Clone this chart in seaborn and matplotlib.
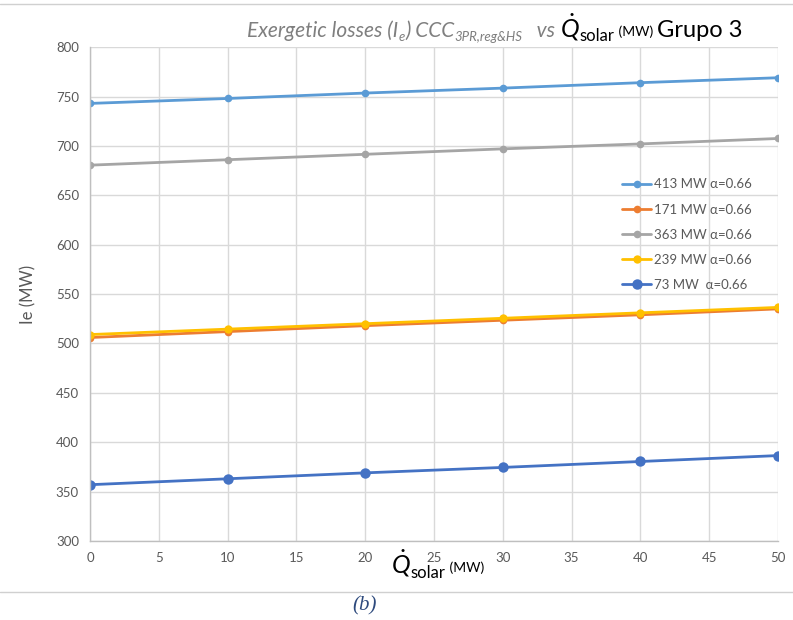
import matplotlib
matplotlib.use("Agg")
import matplotlib.pyplot as plt
import seaborn as sns
import pandas as pd

# Solar heat input (MW) and exergetic losses (MW) for each plant size
q_solar = [0, 10, 20, 30, 40, 50]
ie_413 = [743, 748, 753.5, 758.5, 764, 769]
ie_171 = [506, 512, 518, 523.5, 529, 535]
ie_363 = [680.5, 686, 691.5, 697, 702, 707.5]
ie_239 = [509, 514.5, 520, 525.5, 531, 536.5]
ie_73 = [357, 363, 369, 374.5, 380.5, 386.5]

series_labels = ["413 MW α=0.66", "171 MW α=0.66", "363 MW α=0.66",
                 "239 MW α=0.66", "73 MW  α=0.66"]
series_values = [ie_413, ie_171, ie_363, ie_239, ie_73]
series_colors = ["#5B9BD5", "#ED7D31", "#A5A5A5", "#FFC000", "#4472C4"]
marker_sizes = [5.5, 5.5, 5.5, 6, 7.5]

x_ticks = list(range(0, 51, 5))
y_ticks = list(range(300, 801, 50))

sns.set_style("whitegrid")
plt.rcParams["font.family"] = ["Lato", "DejaVu Sans"]
plt.rcParams["mathtext.fontset"] = "custom"
plt.rcParams["mathtext.rm"] = "Lato"
plt.rcParams["mathtext.it"] = "Lato:italic"
plt.rcParams["mathtext.bf"] = "Lato:bold"

fig = plt.figure(figsize=(7.93, 6.2), dpi=100)
ax = fig.add_axes([0.1135, 0.1274, 0.8675, 0.7966])

for label, vals, color, ms in zip(series_labels, series_values, series_colors, marker_sizes):
    df = pd.DataFrame({"Q": q_solar, "Ie": vals})
    sns.lineplot(data=df, x="Q", y="Ie", ax=ax, color=color, marker="o",
                 markersize=ms, markeredgewidth=0, linewidth=2, label=label)

ax.set_xlim(0, 50)
ax.set_ylim(300, 800)
ax.set_xticks(x_ticks)
ax.set_yticks(y_ticks)
ax.tick_params(axis="both", length=0, labelsize=9.5, labelcolor="#595959", pad=8)
ax.grid(True, color="#D9D9D9", linewidth=1)
for side in ["top", "right"]:
    ax.spines[side].set_visible(False)
for side in ["left", "bottom"]:
    ax.spines[side].set_color("#BFBFBF")
    ax.spines[side].set_linewidth(1)

ax.set_xlabel("")
ax.set_ylabel("Ie (MW)", fontsize=12, color="#595959", labelpad=14)

leg = ax.legend(loc="upper left", bbox_to_anchor=(0.766, 0.745), frameon=False,
                fontsize=9.5, labelspacing=1.0, handlelength=2.2, handletextpad=0.2,
                borderaxespad=0)
for t in leg.get_texts():
    t.set_color("#595959")

renderer = fig.canvas.get_renderer()
W, H = fig.bbox.width, fig.bbox.height


def run_text(x, y, pieces):
    """Write text pieces one after another along a shared baseline (figure coords).
    Each piece: (text, size, color, style, baseline shift in px)."""
    for s, size, color, style, shift in pieces:
        t = fig.text(x, y + shift / H, s, fontsize=size, color=color, style=style,
                     va="baseline", ha="left")
        bb = t.get_window_extent(renderer)
        x = bb.x1 / W


GRAY = "#7F7F7F"
# Title: gray italic description followed by the black quantity
run_text(0.312, 0.940, [
    ("Exergetic losses (I", 15, GRAY, "italic", 0),
    ("e", 9.5, GRAY, "italic", -4),
    (") CCC", 15, GRAY, "italic", 0),
    ("3PR,reg&HS", 9.5, GRAY, "italic", -4),
    ("   vs ", 15, GRAY, "italic", 0),
    (r"$\dot{Q}$", 18, "black", "normal", 0),
    ("solar", 12, "black", "normal", -4),
    (" (MW) ", 10, "black", "normal", 1),
    ("Grupo 3", 17, "black", "normal", 0),
])

# X-axis label
run_text(0.493, 0.075, [
    (r"$\dot{Q}$", 18, "black", "normal", 0),
    ("solar", 12, "black", "normal", -4),
    (" (MW)", 10, "black", "normal", 1),
])

# Figure frame lines and caption
fig.add_artist(plt.Line2D([0, 1], [0.9935, 0.9935], transform=fig.transFigure,
                          color="#D0D0D0", linewidth=1))
fig.add_artist(plt.Line2D([0, 1], [0.045, 0.045], transform=fig.transFigure,
                          color="#D0D0D0", linewidth=1))
fig.text(0.46, 0.008, "(b)", fontsize=15, style="italic", family="Liberation Serif",
         color="#2E4A7D", ha="center", va="bottom")

fig.savefig("out.png", dpi=100)
